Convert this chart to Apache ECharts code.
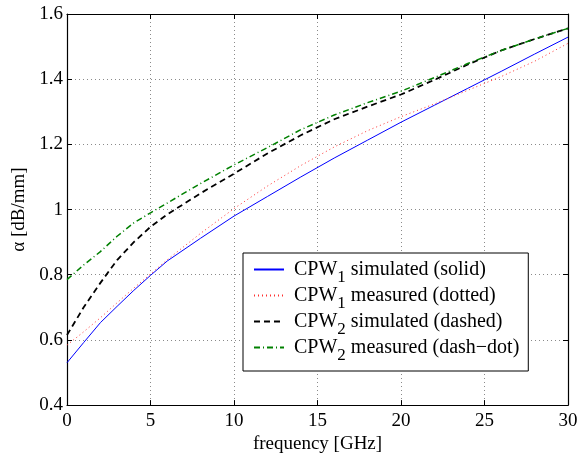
<!DOCTYPE html>
<html><head><meta charset="utf-8">
<script src="https://cdn.jsdelivr.net/npm/echarts@6/dist/echarts.min.js"></script>
<style>html,body{margin:0;padding:0;background:#fff}#c{width:581px;height:459px}</style>
</head><body><div id="c"></div>
<script>
const freq = [0,1,2,3,4,5,6,8,10,12,14,16,18,20,22,24,26,28,30];
const cpw1Sim  = [0.530,0.592,0.653,0.703,0.752,0.798,0.842,0.912,0.980,1.040,1.100,1.158,1.213,1.268,1.320,1.372,1.424,1.477,1.529];
const cpw1Meas = [0.584,0.625,0.668,0.714,0.759,0.802,0.846,0.927,1.003,1.072,1.135,1.192,1.242,1.285,1.324,1.366,1.408,1.455,1.510];
const cpw2Sim  = [0.615,0.700,0.775,0.845,0.900,0.947,0.985,1.050,1.110,1.172,1.228,1.277,1.316,1.353,1.398,1.445,1.488,1.523,1.556];
const cpw2Meas = [0.785,0.830,0.871,0.918,0.959,0.990,1.020,1.080,1.137,1.190,1.245,1.290,1.328,1.363,1.405,1.448,1.488,1.523,1.556];
const seriesNames = ['CPW1 simulated (solid)','CPW1 measured (dotted)','CPW2 simulated (dashed)','CPW2 measured (dash-dot)'];
const legendTexts = [['1',' simulated (solid)'],['1',' measured (dotted)'],['2',' simulated (dashed)'],['2',' measured (dash\u2212dot)']];
const xTicks = [0,5,10,15,20,25,30];
const yTicks = [0.4,0.6,0.8,1,1.2,1.4,1.6];

const FONT = 'Liberation Serif';
const pair = (ys) => freq.map((x,i)=>[x, ys[i]]);
const chart = echarts.init(document.getElementById('c'), null, {renderer:'canvas'});
const gridDot = {show:true, lineStyle:{color:'#8a8a8a', width:1, type:[1,3]}};
const axisCommon = {
  min:0, max:30, interval:5, type:'value',
  axisLine:{show:true, onZero:false, lineStyle:{color:'#000', width:1.2}},
  axisTick:{show:true, inside:true, length:5, lineStyle:{color:'#000'}},
};
const yCommon = {
  min:0.4, max:1.6, interval:0.2, type:'value',
  axisLine:{show:true, onZero:false, lineStyle:{color:'#000', width:1.2}},
  axisTick:{show:true, inside:true, length:5, lineStyle:{color:'#000'}},
};
chart.setOption({
  animation:false,
  backgroundColor:'#fff',
  textStyle:{fontFamily:FONT},
  grid:{left:67, right:13, top:14, bottom:51, containLabel:false},
  xAxis:[
    Object.assign({}, axisCommon, {position:'bottom',
      name:'frequency [GHz]', nameLocation:'middle', nameGap:18,
      nameTextStyle:{fontFamily:FONT, fontSize:19, color:'#000'},
      axisLabel:{fontFamily:FONT, fontSize:19, color:'#000', margin:6,
        formatter:(v)=> xTicks.includes(v) ? String(v) : ''},
      splitLine:gridDot}),
    Object.assign({}, axisCommon, {position:'top', axisLabel:{show:false}, splitLine:{show:false}})
  ],
  yAxis:[
    Object.assign({}, yCommon, {position:'left',
      name:'\u03b1 [dB/mm]', nameLocation:'middle', nameGap:32,
      nameTextStyle:{fontFamily:FONT, fontSize:19, color:'#000'},
      axisLabel:{fontFamily:FONT, fontSize:19, color:'#000', margin:4,
        formatter:(v)=>{ const t = yTicks.find(k=>Math.abs(k-v)<1e-6); return t===undefined?'':String(t);} },
      splitLine:gridDot}),
    Object.assign({}, yCommon, {position:'right', axisLabel:{show:false}, splitLine:{show:false}})
  ],
  legend:{
    show:true, orient:'vertical', left:243, top:253,
    padding:[0,9,7,10], itemGap:-7, itemWidth:30, itemHeight:20,
    backgroundColor:'#fff', borderColor:'#000', borderWidth:1,
    itemStyle:{opacity:0},
    data:seriesNames,
    formatter:(name)=>{ const i = seriesNames.indexOf(name); const t = legendTexts[i];
      return '{c|CPW}{s|' + t[0] + '}{a|' + t[1] + '}'; },
    textStyle:{fontFamily:FONT, color:'#000',
      rich:{
        c:{fontFamily:FONT, fontSize:20, lineHeight:20, color:'#000', padding:[0,0,0,5]},
        a:{fontFamily:FONT, fontSize:20, lineHeight:20, color:'#000'},
        s:{fontFamily:FONT, fontSize:17, lineHeight:20, color:'#000', padding:[16,0,0,0]}
      }}
  },
  series:[
    {name:seriesNames[0], type:'line', data:pair(cpw1Sim), showSymbol:false, symbol:'none',
      lineStyle:{color:'#0000ff', width:1, type:'solid'}, itemStyle:{color:'#0000ff'}},
    {name:seriesNames[1], type:'line', data:pair(cpw1Meas), showSymbol:false, symbol:'none',
      lineStyle:{color:'#ff3030', width:1, type:[1,3]}, itemStyle:{color:'#ff3030'}},
    {name:seriesNames[2], type:'line', data:pair(cpw2Sim), showSymbol:false, symbol:'none',
      lineStyle:{color:'#000000', width:1.8, type:[6,4]}, itemStyle:{color:'#000'}},
    {name:seriesNames[3], type:'line', data:pair(cpw2Meas), showSymbol:false, symbol:'none',
      lineStyle:{color:'#008000', width:1.5, type:[6,3,1,3]}, itemStyle:{color:'#008000'}}
  ]
});
</script></body></html>
